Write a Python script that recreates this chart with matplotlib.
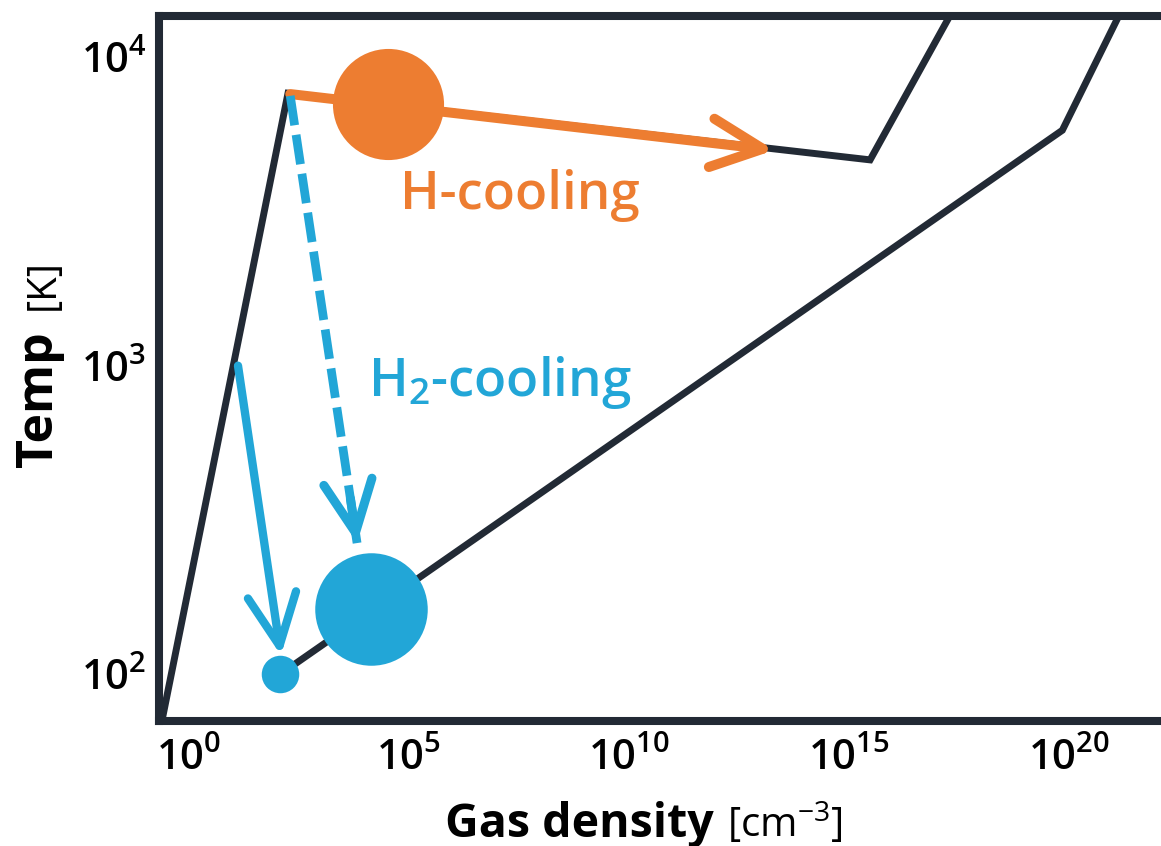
import numpy as np
import matplotlib
matplotlib.use("Agg")
import matplotlib.pyplot as plt
from matplotlib.ticker import FixedLocator, LogFormatterSciNotation

plt.rcParams["font.family"] = ["Open Sans", "DejaVu Sans"]
plt.rcParams["mathtext.fontset"] = "custom"
plt.rcParams["mathtext.rm"] = "Open Sans:semibold"
plt.rcParams["mathtext.default"] = "regular"

DARK = "#222a35"
ORANGE = "#ed7d31"
BLUE = "#22a6d7"

# collapse tracks (density in cm^-3, temperature in K)
outer_n = [0.25, 178, 3.0e15, 3.2e17]
outer_T = [72, 7650, 4650, 15500]
inner_n = [120, 7.0e19, 2.1e21]
inner_T = [100, 5800, 15500]

# cooling arrows: start and end points
h_arrow_n = [200, 2.0e13]
h_arrow_T = [7600, 5000]
h2_dash_n = [200, 6600]
h2_dash_T = [7500, 266]
h2_solid_n = [13, 123]
h2_solid_T = [1000, 115]

# blobs of gas
blob_n = [33000, 14000, 120]
blob_T = [7050, 163, 100]
blob_size = [80, 81, 27]
blob_color = [ORANGE, BLUE, BLUE]

x_ticks = [1e0, 1e5, 1e10, 1e15, 1e20]
y_ticks = [1e2, 1e3, 1e4]

fig = plt.figure(figsize=(11.61, 8.46), dpi=100)
ax = fig.add_axes([0.137, 0.1478, 0.865, 0.8333])
ax.set_xscale("log")
ax.set_yscale("log")
ax.set_xlim(10 ** -0.68, 10 ** 22.14)
ax.set_ylim(10 ** 1.848, 10 ** 4.134)

ax.plot(outer_n, outer_T, color=DARK, lw=5, solid_joinstyle="miter", zorder=2)
ax.plot(inner_n, inner_T, color=DARK, lw=5, solid_joinstyle="miter", zorder=2)

head = "->,head_length=3.7,head_width=1.75"

# H-cooling arrow along the atomic track
ax.annotate("", xy=(h_arrow_n[1], h_arrow_T[1]), xytext=(h_arrow_n[0], h_arrow_T[0]),
            arrowprops=dict(arrowstyle=head, color=ORANGE, lw=7.2, mutation_scale=10,
                            shrinkA=0, shrinkB=0, capstyle="round", joinstyle="round"),
            zorder=4)

# H2-cooling: dashed shaft plus a solid head
ax.plot(h2_dash_n, h2_dash_T, color=BLUE, lw=6.3, dashes=(3.4, 1.1), zorder=4)
n0, n1 = h2_dash_n
t0, t1 = h2_dash_T
ax.annotate("", xy=(n1, t1), xytext=(n0 * (n1 / n0) ** 0.9, t0 * (t1 / t0) ** 0.9),
            arrowprops=dict(arrowstyle=head, color=BLUE, lw=6.5, mutation_scale=10,
                            shrinkA=0, shrinkB=0, capstyle="round", joinstyle="round"),
            zorder=4)

ax.annotate("", xy=(h2_solid_n[1], h2_solid_T[1]), xytext=(h2_solid_n[0], h2_solid_T[0]),
            arrowprops=dict(arrowstyle=head, color=BLUE, lw=6.0, mutation_scale=10,
                            shrinkA=0, shrinkB=0, capstyle="round", joinstyle="round"),
            zorder=4)

for n, T, s, c in zip(blob_n, blob_T, blob_size, blob_color):
    ax.plot([n], [T], "o", ms=s, color=c, mec="none", zorder=5, clip_on=False)

ax.text(63000, 3220, "H-cooling", color=ORANGE, fontsize=38, fontweight="semibold",
        ha="left", va="baseline", zorder=6)
ax.text(11700, 798, r"H$_\mathdefault{2}$-cooling", color=BLUE, fontsize=38,
        fontweight="semibold", ha="left", va="baseline", zorder=6)

ax.xaxis.set_major_locator(FixedLocator(x_ticks))
ax.yaxis.set_major_locator(FixedLocator(y_ticks))
ax.xaxis.set_major_formatter(LogFormatterSciNotation())
ax.yaxis.set_major_formatter(LogFormatterSciNotation())
ax.minorticks_off()
ax.tick_params(axis="both", length=0, labelsize=30, colors="black")
ax.tick_params(axis="x", pad=12)
ax.tick_params(axis="y", pad=9)
for tick in ax.xaxis.get_major_ticks() + ax.yaxis.get_major_ticks():
    tick.label1.set_fontweight("semibold")

for sp in ax.spines.values():
    sp.set_linewidth(5.8)
    sp.set_color(DARK)

# axis titles: bold name with a lighter unit
fig.text(445 / 1161, 1 - 837 / 846, "Gas density", fontsize=33.5, fontweight="bold",
         ha="left", va="baseline")
fig.text(727 / 1161, 1 - 837 / 846, r"[cm$^{-3}$]", fontsize=29,
         ha="left", va="baseline")
fig.text(52 / 1161, 1 - 467 / 846, "Temp", fontsize=36, fontweight="bold",
         rotation=90, rotation_mode="anchor", ha="left", va="baseline")
fig.text(54 / 1161, 1 - 310 / 846, "[K]", fontsize=29,
         rotation=90, rotation_mode="anchor", ha="left", va="baseline")

fig.savefig("out.png", dpi=100)
